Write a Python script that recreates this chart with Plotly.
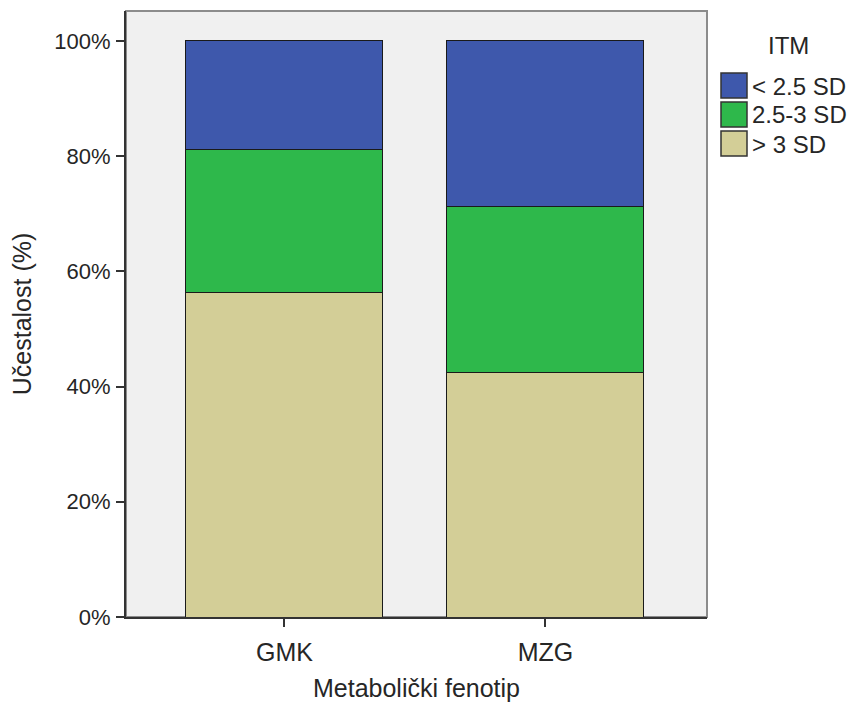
import plotly.graph_objects as go

categories = ["GMK", "MZG"]
series_names = ["> 3 SD", "2.5-3 SD", "< 2.5 SD"]
gt3 = [56.4, 42.5]
mid = [24.7, 28.7]
lt25 = [18.9, 28.8]
series_values = [gt3, mid, lt25]
colors = ["#D3CE97", "#2EB84B", "#3E58AC"]
y_ticks = [0, 20, 40, 60, 80, 100]
y_tick_labels = [f"{v}%" for v in y_ticks]
legend_title = "ITM"

FONT = "Liberation Sans, Arial, sans-serif"
TXT = "#262626"

fig = go.Figure()
for name, vals, col in zip(series_names, series_values, colors):
    fig.add_trace(go.Bar(
        x=categories, y=vals, name=name, showlegend=False,
        marker=dict(color=col, line=dict(color="#1a1a1a", width=1)),
        width=0.755,
    ))

# page offset (body margin) compensation: plot area on screen 126..707 x 11..617
PL, PR, PT, PB = 126, 707, 11, 617
W, H = PR - PL, PB - PT


def px(xs):
    return (xs - PL) / W


def py(ys):
    return (PB - ys) / H


# manual legend (large swatches as in reference)
shapes = [dict(type="rect", xref="paper", yref="paper", x0=0, x1=1, y0=0, y1=1,
               line=dict(color="#8c8c8c", width=2), layer="below")]
annotations = [dict(text=legend_title, xref="paper", yref="paper",
                    x=px(788), y=py(45), xanchor="center", yanchor="middle",
                    showarrow=False, font=dict(size=24, color=TXT, family=FONT))]
legend_order = list(zip(series_names, colors))[::-1]
for i, (name, col) in enumerate(legend_order):
    top = 73 + 29 * i
    shapes.append(dict(type="rect", xref="paper", yref="paper",
                       x0=px(721), x1=px(747), y0=py(top + 25), y1=py(top),
                       fillcolor=col, line=dict(color="#333333", width=1.5),
                       layer="above"))
    annotations.append(dict(text=name, xref="paper", yref="paper",
                            x=px(750), y=py(top + 13), xanchor="left", yanchor="middle",
                            showarrow=False,
                            font=dict(size=24, color=TXT, family=FONT)))

fig.update_layout(
    width=857, height=708,
    barmode="stack",
    paper_bgcolor="white",
    plot_bgcolor="#F0F0F0",
    margin=dict(l=PL - 8, r=857 - (PR - 8), t=PT - 8, b=708 - (PB - 8), autoexpand=False),
    font=dict(family=FONT, size=25, color=TXT),
    showlegend=False,
    xaxis=dict(
        title=dict(text="Metabolički fenotip", font=dict(size=25), standoff=14),
        range=[-0.607, 1.619],
        showline=True, linecolor="#333333", linewidth=2,
        ticks="outside", ticklen=8, tickwidth=2, tickcolor="#333333",
        showgrid=False, tickfont=dict(size=25), ticklabelstandoff=4,
        automargin=False,
    ),
    yaxis=dict(
        title=dict(text="Učestalost (%)", font=dict(size=25), standoff=18),
        range=[0, 105.2],
        tickvals=y_ticks, ticktext=y_tick_labels,
        showline=True, linecolor="#333333", linewidth=2,
        ticks="outside", ticklen=8, tickwidth=2, tickcolor="#333333",
        showgrid=False, zeroline=False, tickfont=dict(size=22),
        ticklabelstandoff=1, automargin=False,
    ),
    shapes=shapes,
    annotations=annotations,
)

fig.write_html("out.html")
